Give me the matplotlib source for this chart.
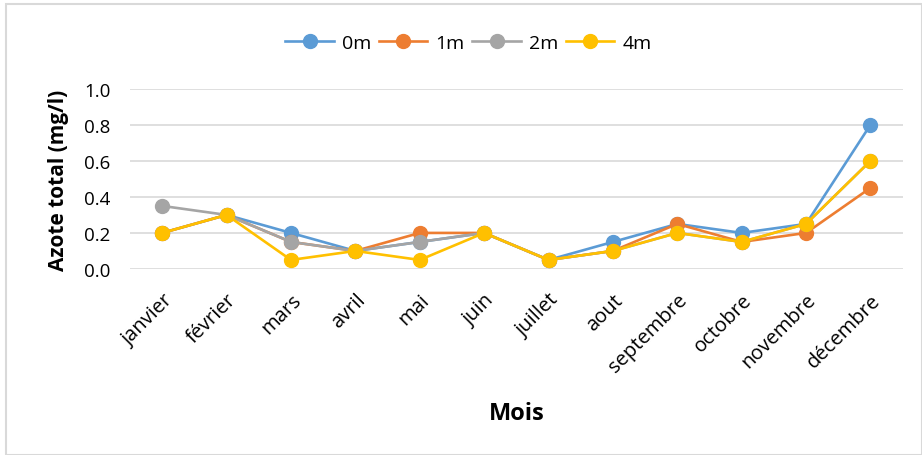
import matplotlib.pyplot as plt
from matplotlib.patches import Rectangle

mois = ["janvier", "février", "mars", "avril", "mai", "juin", "juillet",
        "aout", "septembre", "octobre", "novembre", "décembre"]

prof_0m = [0.20, 0.30, 0.20, 0.10, 0.15, 0.20, 0.05, 0.15, 0.25, 0.20, 0.25, 0.80]
prof_1m = [0.20, 0.30, 0.15, 0.10, 0.20, 0.20, 0.05, 0.10, 0.25, 0.15, 0.20, 0.45]
prof_2m = [0.35, 0.30, 0.15, 0.10, 0.15, 0.20, 0.05, 0.10, 0.20, 0.15, 0.25, 0.60]
prof_4m = [0.20, 0.30, 0.05, 0.10, 0.05, 0.20, 0.05, 0.10, 0.20, 0.15, 0.25, 0.60]

series = [("0m", prof_0m, "#5B9BD5"), ("1m", prof_1m, "#ED7D31"),
          ("2m", prof_2m, "#A5A5A5"), ("4m", prof_4m, "#FFC000")]

plt.rcParams['font.family'] = ['Open Sans', 'DejaVu Sans']

fig = plt.figure(figsize=(9.22, 4.56), dpi=100)
ax = fig.add_axes([0.141, 0.408, 0.838, 0.395])

x = range(len(mois))
for name, vals, col in series:
    ax.plot(x, vals, '-o', color=col, label=name, linewidth=1.9, markersize=10)

ax.set_xlim(-0.5, len(mois) - 0.5)
ax.set_ylim(0, 1.0)
yt = [0, 0.2, 0.4, 0.6, 0.8, 1.0]
ax.set_yticks(yt)
ax.set_yticklabels([f"{v:.1f}" for v in yt], fontsize=13.5)
ax.set_xticks(list(x))
ax.set_xticklabels(mois, rotation=45, ha='right', rotation_mode='anchor', fontsize=14.5)
ax.tick_params(axis='x', length=0, pad=15)
ax.tick_params(axis='y', length=0, pad=14)
ax.grid(axis='y', color='#D9D9D9', linewidth=1.2)
ax.set_axisbelow(True)
for s in ax.spines.values():
    s.set_visible(False)

ax.set_ylabel("Azote total (mg/l)", fontsize=15, fontweight='bold')
ax.yaxis.set_label_coords(-0.079, 0.5)
ax.set_xlabel("Mois", fontsize=17, fontweight='bold')
ax.xaxis.set_label_coords(0.5, -0.80)
ax.xaxis.label.set_va('center')

fig.legend(loc='center', bbox_to_anchor=(0.508, 0.904), ncol=4, frameon=False,
           fontsize=14, handlelength=2.5, columnspacing=0.4, handletextpad=0.4)

fig.patches.append(Rectangle((0.006, 0.0), 0.994, 0.99, transform=fig.transFigure,
                             fill=False, edgecolor='#D9D9D9', linewidth=1.5))

fig.savefig('out.png', dpi=100)
